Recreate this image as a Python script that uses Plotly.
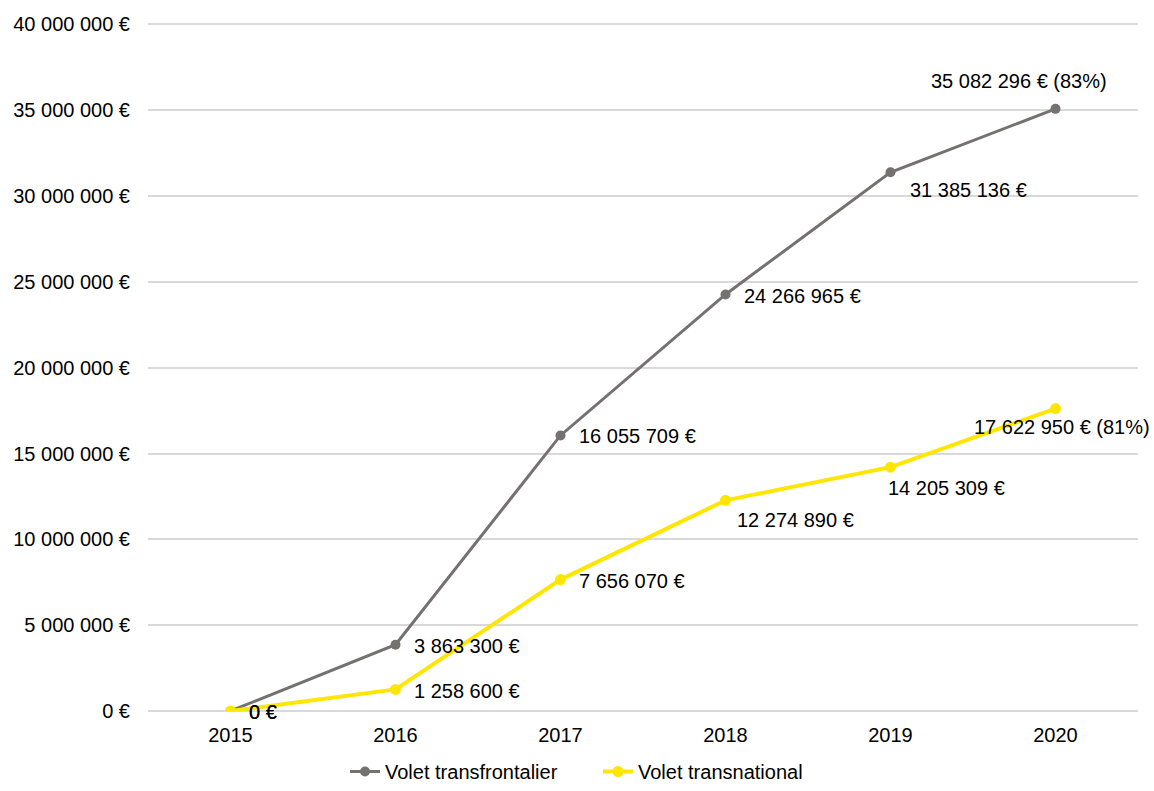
import plotly.graph_objects as go

years = ["2015", "2016", "2017", "2018", "2019", "2020"]
transfrontalier = [0, 3863300, 16055709, 24266965, 31385136, 35082296]
transnational = [0, 1258600, 7656070, 12274890, 14205309, 17622950]
suffix_transfrontalier = ["", "", "", "", "", " (83%)"]
suffix_transnational = ["", "", "", "", "", " (81%)"]

y_ticks = [0, 5000000, 10000000, 15000000, 20000000, 25000000, 30000000, 35000000, 40000000]

GREY = "#767171"
YELLOW = "#FFE600"
FONT = "Liberation Sans, Arial, sans-serif"


def euro(v):
    return f"{v:,.0f}".replace(",", " ") + " €"


fig = go.Figure()
fig.add_trace(go.Scatter(
    x=years, y=transfrontalier, name="Volet transfrontalier",
    mode="lines+markers",
    line=dict(color=GREY, width=3),
    marker=dict(color=GREY, size=10),
    hoverinfo="skip",
))
fig.add_trace(go.Scatter(
    x=years, y=transnational, name="Volet transnational",
    mode="lines+markers",
    line=dict(color=YELLOW, width=4),
    marker=dict(color=YELLOW, size=11),
    hoverinfo="skip",
))

# label placement per point: (xanchor, xshift, yshift)
place_grey = [("left", 16, -1), ("left", 16, -1), ("left", 16, -1),
              ("left", 16, -2), ("left", 17, -18), ("center", -37, 28)]
place_yellow = [("left", 16, -1), ("left", 16, -2), ("left", 16, -1),
                ("left", 9, -20), ("left", -5, -21), ("center", 6, -18)]

for vals, sfx, places in ((transfrontalier, suffix_transfrontalier, place_grey),
                          (transnational, suffix_transnational, place_yellow)):
    for i, (v, s, (xa, xs, ys)) in enumerate(zip(vals, sfx, places)):
        # category axis: position annotations by category index
        fig.add_annotation(
            x=i, y=v, xref="x", yref="y", text=euro(v) + s, showarrow=False,
            xanchor=xa, yanchor="middle", xshift=xs, yshift=ys,
            font=dict(family=FONT, size=20, color="#000000"),
        )

fig.update_layout(
    width=1154, height=791,
    margin=dict(l=148, r=16, t=21, b=80, autoexpand=False),
    paper_bgcolor="white", plot_bgcolor="white",
    font=dict(family=FONT, size=20, color="#000000"),
    showlegend=True,
    legend=dict(orientation="h", x=0.199, xanchor="left",
                yref="container", y=0.0, yanchor="bottom",
                entrywidth=208, entrywidthmode="pixels",
                font=dict(family=FONT, size=20, color="#000000")),
    hovermode=False,
)
fig.update_xaxes(
    type="category", range=[-0.5, 5.5],
    showgrid=False, showline=False, zeroline=False,
    ticks="", ticklabelstandoff=10,
    tickfont=dict(family=FONT, size=20, color="#000000"),
)
fig.update_yaxes(
    range=[0, 40200000], tickvals=y_ticks, ticktext=[euro(t) for t in y_ticks],
    showgrid=True, gridcolor="#D9D9D9", gridwidth=1.5,
    zeroline=True, zerolinecolor="#D9D9D9", zerolinewidth=1.5,
    showline=False, ticks="", ticklabelstandoff=17,
    tickfont=dict(family=FONT, size=20, color="#000000"),
)

fig.write_html("out.html")
